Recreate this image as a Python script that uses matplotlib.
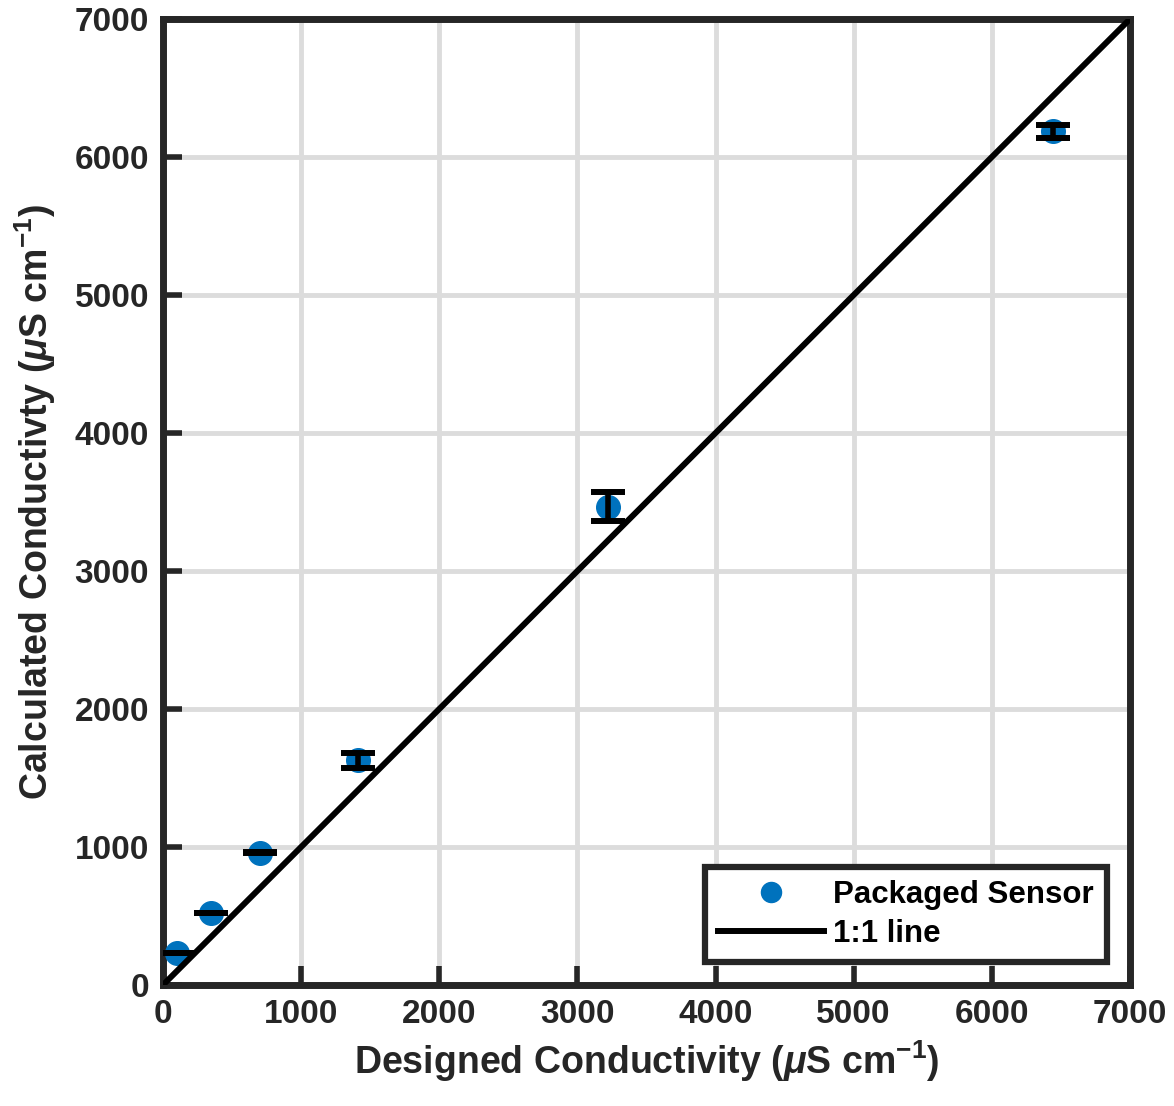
import numpy as np
import matplotlib
matplotlib.use("Agg")
from matplotlib import pyplot as plt

font = {'family': 'Liberation Sans',
        'weight': 'bold',
        'size': 24}
matplotlib.rc('font', **font)
plt.rcParams['axes.labelweight'] = 'bold'
plt.rcParams['mathtext.fontset'] = 'custom'
plt.rcParams['mathtext.rm'] = 'Liberation Sans:bold'
plt.rcParams['mathtext.bf'] = 'Liberation Sans:bold'
plt.rcParams['mathtext.it'] = 'Liberation Sans:bold:italic'
plt.rcParams['mathtext.default'] = 'bf'

# designed vs calculated conductivity of the packaged sensor
designed = [100, 350, 700, 1413, 3220, 6440]
calculated = [232, 522, 960, 1630, 3464, 6185]
err = [2, 2, 2, 54, 105, 50]

dark = '#262626'

fig = plt.figure(figsize=(11.74, 11.06), dpi=100)
ax = fig.add_axes([0.1388, 0.1094, 0.8237, 0.8734])

ax.errorbar(designed, calculated, yerr=err, fmt='none', ecolor='black',
            elinewidth=4, capsize=12.5, capthick=4.3, zorder=4)
ax.plot(designed, calculated, 'o', color='#0072BD', markersize=17,
        label='Packaged Sensor', zorder=3)
ax.plot([0, 7000], [0, 7000], color='black', lw=4.3, label='1:1 line', zorder=5)

ax.set_xlim(0, 7000)
ax.set_ylim(0, 7000)
ax.set_xticks(np.arange(0, 7001, 1000))
ax.set_yticks(np.arange(0, 7001, 1000))
ax.grid(True, color='#dcdcdc', lw=3.5)
ax.set_axisbelow(True)
ax.tick_params(direction='in', length=14, width=4, colors=dark, labelsize=24, pad=10)
for s in ax.spines.values():
    s.set_linewidth(5)
    s.set_color(dark)

ax.set_xlabel(r'Designed Conductivity ($\mathit{\mu}$S cm$^{-1}$)', color=dark,
              fontsize=27, labelpad=6)
ax.set_ylabel(r'Calculated Conductivty ($\mathit{\mu}$S cm$^{-1}$)', color=dark,
              fontsize=27, labelpad=12)

leg = ax.legend(loc='lower right', fontsize=22.5, frameon=True, fancybox=False,
                borderaxespad=0.75, handlelength=3.4, handletextpad=0.3,
                borderpad=0.4, labelspacing=0.3, markerscale=0.85)
leg.get_frame().set_edgecolor(dark)
leg.get_frame().set_linewidth(4.5)
leg.get_frame().set_alpha(1)

plt.savefig('out.png', dpi=100)
